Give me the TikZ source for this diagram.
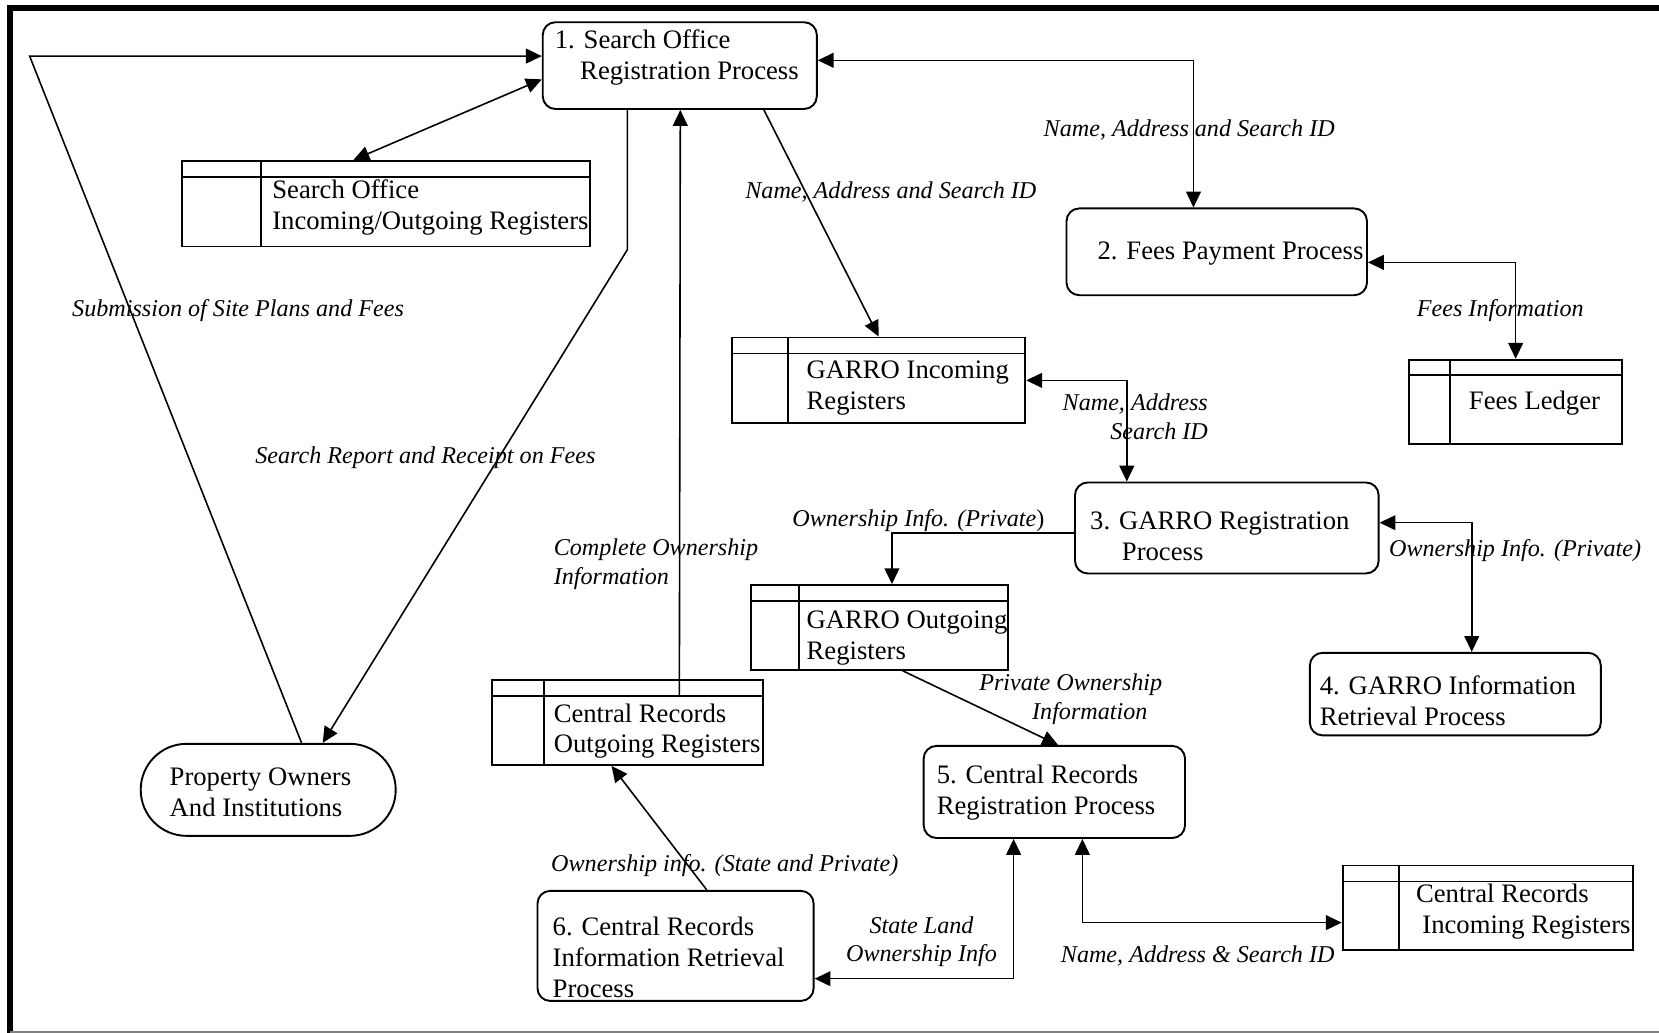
\documentclass[tikz,border=0pt]{standalone}
\usepackage{fontspec}
\setmainfont{Liberation Serif}
\usetikzlibrary{arrows.meta,calc}

% header row and key column of a data store
\newcommand\storelines[3]{%
  \draw[line width=0.9pt] ($(#1.north west)+(0,#3)$) -- ($(#1.north east)+(0,#3)$);
  \draw[line width=0.9pt] ($(#1.north west)+(#2,0)$) -- ($(#1.south west)+(#2,0)$);}

\begin{document}
\begin{tikzpicture}[x=0.5pt,y=-0.5pt,
  every node/.style={font=\fontsize{12.6}{14.6}\selectfont},
  proc/.style={draw,line width=0.9pt,rounded corners=6pt,inner sep=0pt},
  store/.style={draw,line width=0.9pt,inner sep=0pt},
  txt/.style={anchor=west,align=left,inner sep=0pt},
  lbl/.style={font=\fontsize{11.4}{13.6}\selectfont\itshape,inner sep=0pt},
  tip/.tip={Triangle[length=7.5pt,width=7pt]},
  flow/.style={line width=0.75pt,-tip},
  dflow/.style={line width=0.75pt,tip-tip},
  plain/.style={line width=0.75pt}
]
\useasboundingbox (0,0) rectangle (1568,976);

% outer frame
\draw[line width=2.8pt] (9.5,980) -- (9.5,7.6) -- (1572,7.6);
\draw[gray,line width=1pt] (9.5,975.5) -- (1572,975.5);

% processes
\node[proc,minimum width=129.5pt,minimum height=41pt] (p1) at (642.5,62) {};
\node[proc,minimum width=142pt,minimum height=41pt] (p2) at (1150,238) {};
\node[proc,minimum width=143.5pt,minimum height=43pt] (p3) at (1159.5,499) {};
\node[proc,minimum width=137.5pt,minimum height=39pt] (p4) at (1375.5,656) {};
\node[proc,minimum width=123.5pt,minimum height=43.5pt] (p5) at (996.5,748.5) {};
\node[proc,minimum width=130.5pt,minimum height=52pt] (p6) at (638.5,894) {};
\node[draw,line width=0.9pt,rounded corners=21.7pt,inner sep=0pt,
      minimum width=120.5pt,minimum height=43.5pt] (po) at (253.5,746.5) {};

\node[txt] (p1t) at (524,54) {1. Search Office\\\hspace*{12pt}Registration Process};
\node[txt] (p2t) at (1037,240) {2. Fees Payment Process};
\node[txt] (p3t) at (1030,507) {3. GARRO Registration\\\hspace*{15pt}Process};
\node[txt] (p4t) at (1247,662) {4. GARRO Information\\Retrieval Process};
\node[txt] (p5t) at (885,749) {5. Central Records\\Registration Process};
\node[txt] (p6t) at (522,905) {6. Central Records\\Information Retrieval\\Process};
\node[txt] (pot) at (160,749) {Property Owners\\And Institutions};

% data stores
\node[store,minimum width=193pt,minimum height=40.5pt] (s1) at (365,192.5) {};
\node[store,minimum width=138.5pt,minimum height=40.5pt] (s2) at (830.5,359.5) {};
\node[store,minimum width=100.5pt,minimum height=40pt] (s3) at (1432.5,380) {};
\node[store,minimum width=121.5pt,minimum height=40pt] (s4) at (831.5,593) {};
\node[store,minimum width=128pt,minimum height=40pt] (s5) at (593,683) {};
\node[store,minimum width=137pt,minimum height=40pt] (s6) at (1406,858) {};
\storelines{s1}{76}{16}
\storelines{s2}{54}{16}
\storelines{s3}{39}{15}
\storelines{s4}{46}{16}
\storelines{s5}{50}{16}
\storelines{s6}{54}{16}

\node[txt] (s1t) at (257,196) {Search Office\\Incoming/Outgoing Registers};
\node[txt] (s2t) at (762,367) {GARRO Incoming\\Registers};
\node[txt] (s3t) at (1388,381) {Fees Ledger};
\node[txt] (s4t) at (762,603) {GARRO Outgoing\\Registers};
\node[txt] (s5t) at (523,691) {Central Records\\Outgoing Registers};
\node[txt] (s6t) at (1338,862) {Central Records\\\hspace*{3pt}Incoming Registers};

% data flows
\coordinate (corner) at (28,53);
\draw[flow] ($(po.north)+(31.5,0)$) -- (corner) -- (p1.west |- corner);
\draw[dflow] ($(p1.west)+(0,13)$) -- ($(s1.north west)+(163,0)$);
\draw[flow] ($(p1.south)+(-49.5,0)$) -- ++(0,132) -- ($(po.north)+(51.5,0)$);
\draw[flow] ($(s5.north west)+(178,16)$) -- ($(p1.south)+(0.5,0)$);
\draw[flow] ($(p1.south)+(79.5,0)$) -- (s2.north);
\draw[dflow] ($(p1.east)+(0,-5)$) -| ($(p2.north)+(-22,0)$);
\draw[dflow] ($(p2.east)+(0,10)$) -| (s3.north);
\draw[dflow] (s2.east) -| ($(p3.north)+(-94.5,0)$);
\draw[flow] ($(p3.west)+(0,5)$) -| ($(s4.north)+(11.5,0)$);
\draw[dflow] ($(p3.east)+(0,-5)$) -| ($(p4.north)+(15.5,0)$);
\draw[flow] ($(s4.south)+(21.5,0)$) -- ($(p5.north)+(3.5,0)$);
\draw[flow] ($(p6.north)+(29.5,0)$) -- ($(s5.south)+(-15,0)$);
\draw[dflow] ($(p6.east)+(0,31)$) -| ($(p5.south)+(-38.5,0)$);
\draw[dflow] ($(p5.south)+(26.5,0)$) |- ($(s6.west)+(0,14)$);

% flow labels
\node[lbl] (l1) at (225,294) {Submission of Site Plans and Fees};
\node[lbl] (l2) at (402,433) {Search Report and Receipt on Fees};
\node[lbl,anchor=west,align=left] (l3) at (523,533) {Complete Ownership\\Information};
\node[lbl] (l4) at (842,181) {Name, Address and Search ID};
\node[lbl] (l5) at (1124,123) {Name, Address and Search ID};
\node[lbl] (l6) at (1418,294) {Fees Information};
\node[lbl,anchor=east,align=right] (l7) at (1142,394) {Name, Address\\Search ID};
\node[lbl] (l8) at (868,492) {Ownership Info. (Private\/{\upshape)}};
\node[lbl] (l9) at (1432,520) {Ownership Info. (Private)};
\node[lbl,align=center] (l10) at (1012,661) {Private Ownership\\\hspace*{18pt}Information};
\node[lbl] (l11) at (685,818) {Ownership info. (State and Private)};
\node[lbl,align=center] (l12) at (871,890) {State Land\\Ownership Info};
\node[lbl] (l13) at (1132,904) {Name, Address \& Search ID};
\end{tikzpicture}
\end{document}
